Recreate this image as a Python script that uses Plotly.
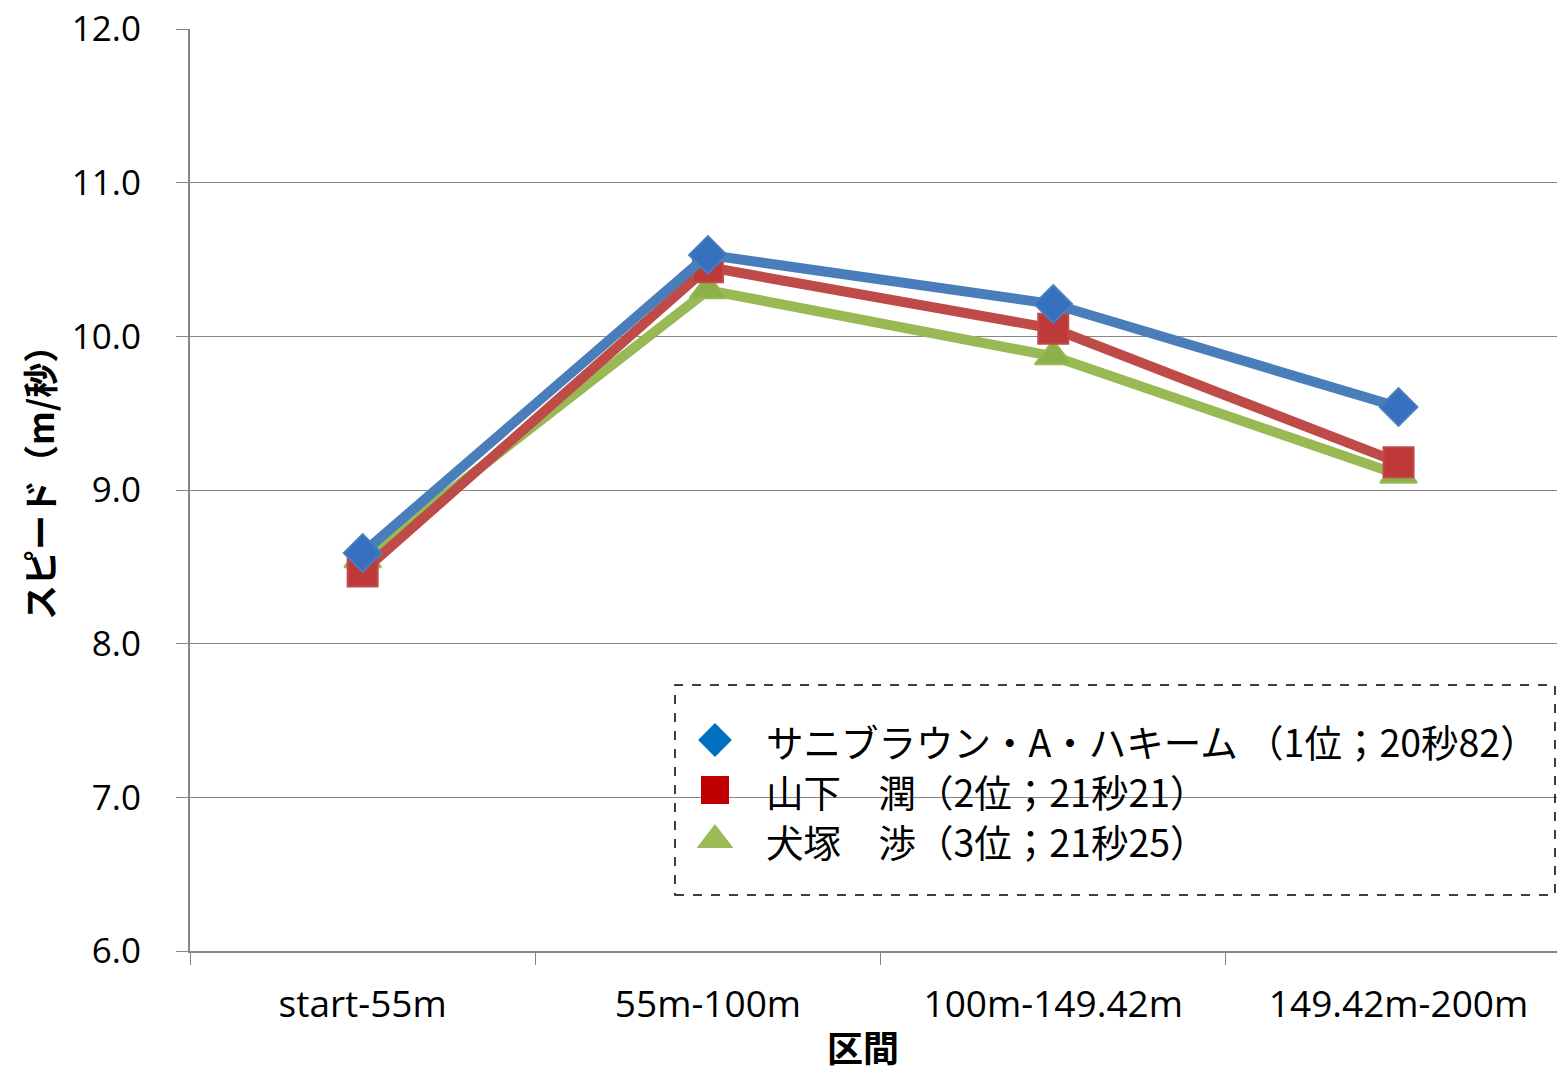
import plotly.graph_objects as go

categories = ["start-55m", "55m-100m", "100m-149.42m", "149.42m-200m"]
hakim = [8.59, 10.53, 10.21, 9.54]
yamashita = [8.47, 10.45, 10.05, 9.18]
inuzuka = [8.55, 10.30, 9.87, 9.10]
names = ["サニブラウン・A・ハキーム （1位；20秒82）",
         "山下　潤（2位；21秒21）",
         "犬塚　渉（3位；21秒25）"]
y_ticks = [6.0, 7.0, 8.0, 9.0, 10.0, 11.0, 12.0]

W, H = 1557, 1074
L, R, T, B = 190, 0, 29, 123
pw, ph = W - L - R, H - T - B
PLOT_BOTTOM = H - B

def px(x):
    return (x - L) / pw

def py(y):
    return (PLOT_BOTTOM - y) / ph

series = [
    (inuzuka, "#98B954", "triangle-up", 32, "#8CB04A", 2),
    (yamashita, "#BE4B48", "square", 30, "#C0393A", 1),
    (hakim, "#4A7EBB", "diamond", 29, "#3670BE", 0),
]

fig = go.Figure()
for vals, lc, sym, sz, mc, rank in series:
    fig.add_trace(go.Scatter(
        x=categories, y=vals, mode="lines+markers",
        line=dict(color=lc, width=10),
        marker=dict(symbol=sym, size=sz, color=mc, line=dict(color=lc, width=2)),
        showlegend=False, name=names[rank], cliponaxis=False,
    ))

# custom legend (markers on an overlay axis in paper space)
legend_rows = [740, 790, 840]
legend_syms = [("diamond", 26, "#0070C0"), ("square", 28, "#C00000"), ("triangle-up", 32, "#9BBB59")]
for i, (sym, sz, col) in enumerate(legend_syms):
    fig.add_trace(go.Scatter(
        x=[px(715)], y=[py(legend_rows[i])], xaxis="x2", yaxis="y2",
        mode="markers", marker=dict(symbol=sym, size=sz, color=col),
        showlegend=False, hoverinfo="skip",
    ))
    fig.add_annotation(
        x=px(764), y=py(legend_rows[i]), xref="paper", yref="paper",
        text=names[i], showarrow=False, xanchor="left", yanchor="middle",
        font=dict(family="Noto Sans CJK JP", size=37.5, color="black"),
    )

fig.add_shape(type="rect", xref="paper", yref="paper",
              x0=px(675), x1=px(1555), y0=py(895), y1=py(685),
              line=dict(color="black", width=1.5, dash="dash"), fillcolor="rgba(0,0,0,0)")

fig.update_layout(
    width=W, height=H,
    margin=dict(l=L, r=R, t=T, b=B),
    paper_bgcolor="white", plot_bgcolor="white",
    showlegend=False,
    xaxis=dict(
        type="category", range=[-0.5, -0.5 + pw / 345.3],
        tickson="boundaries", ticks="outside", ticklen=12, tickcolor="#868686",
        showgrid=False, showline=True, linecolor="#868686", linewidth=2,
        tickfont=dict(family="Open Sans", size=37, color="black"),
        ticklabelstandoff=20,
    ),
    yaxis=dict(
        range=[6, 12], tickvals=y_ticks, ticktext=[f"{v:.1f}" for v in y_ticks],
        ticks="outside", ticklen=12, tickcolor="#868686",
        showgrid=True, gridcolor="#868686", gridwidth=1,
        showline=True, linecolor="#868686", linewidth=2, zeroline=False,
        tickfont=dict(family="Open Sans", size=35, color="black"),
        ticklabelstandoff=28, ticklabeloverflow="allow",
    ),
    xaxis2=dict(overlaying="x", range=[0, 1], visible=False, domain=[0, 1], anchor="y2"),
    yaxis2=dict(overlaying="y", range=[0, 1], visible=False, domain=[0, 1], anchor="x2"),
)

fig.add_annotation(x=px(38), y=py(474), xref="paper", yref="paper",
                   text="<b>スピード（m/秒）</b>", showarrow=False, textangle=-90,
                   xanchor="center", yanchor="middle",
                   font=dict(family="Noto Sans CJK JP", size=35, color="black"))
fig.add_annotation(x=px(863), y=py(1046), xref="paper", yref="paper",
                   text="<b>区間</b>", showarrow=False, borderpad=0,
                   xanchor="center", yanchor="middle",
                   font=dict(family="Noto Sans CJK JP", size=36, color="black"))

fig.write_html("out.html", config={"displayModeBar": False},
               post_script="document.body.style.margin='0';document.body.style.overflow='hidden';")
